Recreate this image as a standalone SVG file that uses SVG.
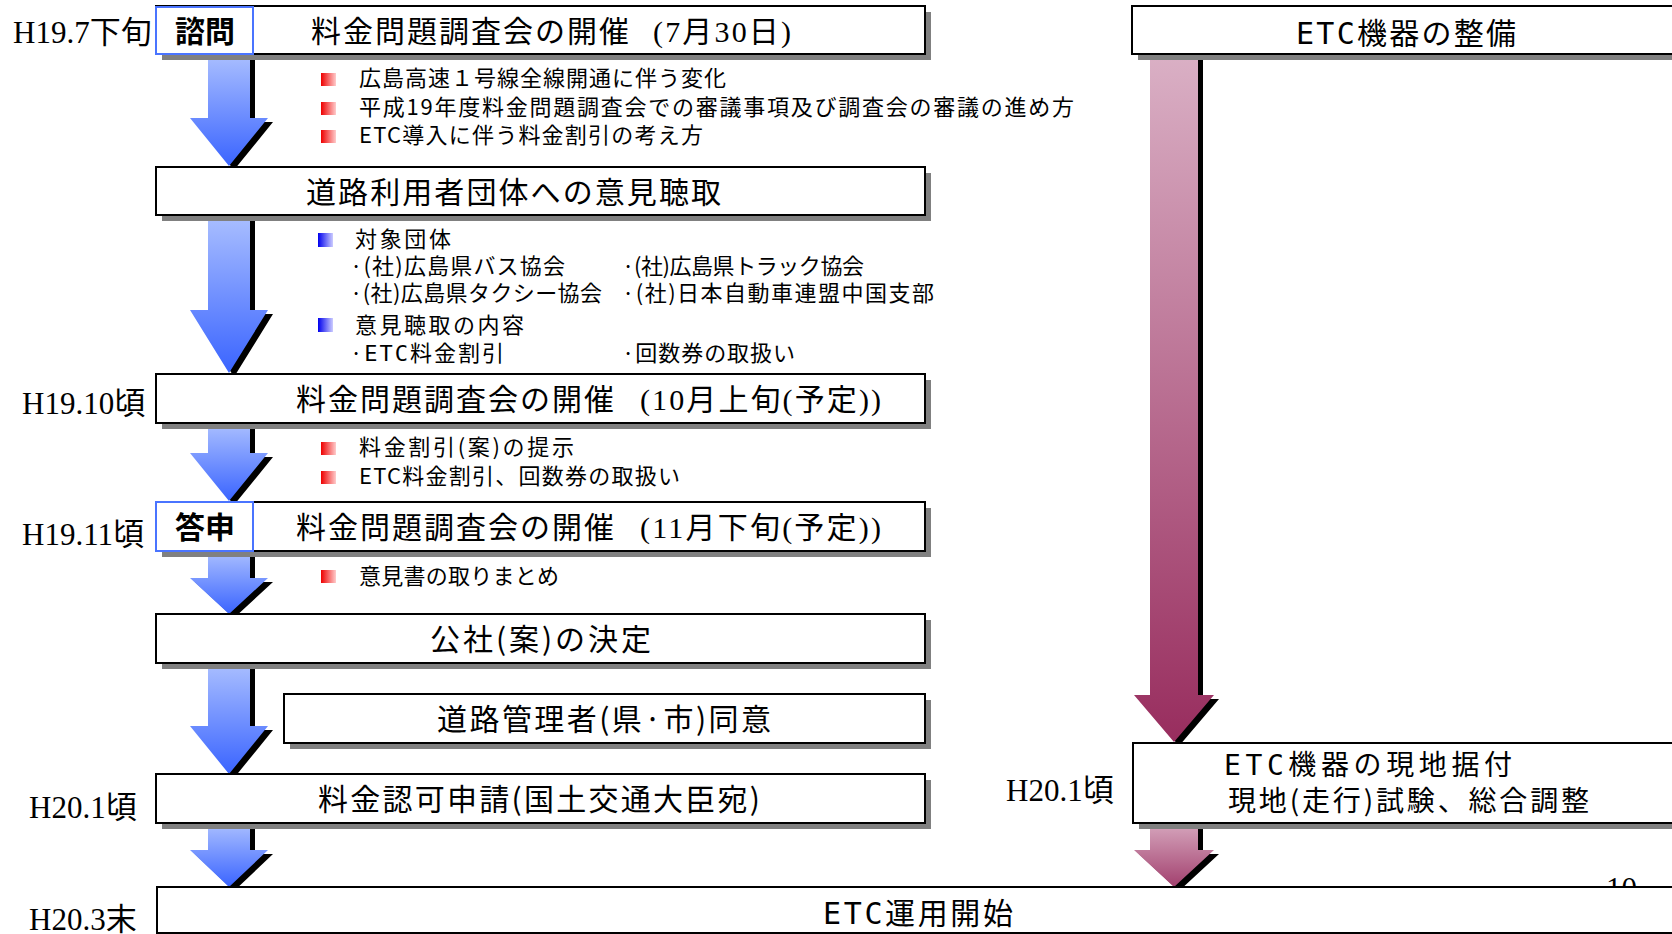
<svg xmlns="http://www.w3.org/2000/svg" width="1672" height="934" viewBox="0 0 1672 934">
<defs>
<linearGradient id="gb" x1="0" y1="0" x2="0" y2="1"><stop offset="0" stop-color="#aabfff"/><stop offset="1" stop-color="#3a64ff"/></linearGradient>
<linearGradient id="gp" x1="0" y1="0" x2="0" y2="1"><stop offset="0" stop-color="#dab0c5"/><stop offset="1" stop-color="#982d5e"/></linearGradient>
<linearGradient id="gp2" x1="0" y1="0" x2="0" y2="1"><stop offset="0" stop-color="#d6a6bd"/><stop offset="1" stop-color="#a2406e"/></linearGradient>
<linearGradient id="gr" x1="0" y1="0" x2="1" y2="0"><stop offset="0" stop-color="#ee0000"/><stop offset="1" stop-color="#ffcccc"/></linearGradient>
<linearGradient id="gbl" x1="0" y1="0" x2="1" y2="0"><stop offset="0" stop-color="#0000ee"/><stop offset="1" stop-color="#ccccff"/></linearGradient>
<style>
.box{fill:#fff;stroke:#000;stroke-width:2}
.sh{fill:#808080}
.tag{fill:#fff;stroke:#4a74ff;stroke-width:2}
.ash{fill:#000}
.jp{font-family:"Noto Sans CJK JP","Noto Sans",sans-serif;fill:#000}
.t30{font-size:30px}
.t28{font-size:28px}
.t23{font-size:22px}
.ser{font-family:"Liberation Serif","Noto Sans CJK JP",serif}
.mono{font-family:"DejaVu Sans Mono",monospace}
.lbl{font-family:"Liberation Serif","Noto Sans CJK JP",serif;font-size:31px;fill:#000}
.bold{font-weight:bold;font-size:30px}
</style>
</defs>
<rect width="1672" height="934" fill="#fff"/>

<text class="lbl" x="1606" y="899" font-size="38">10</text>

<g id="connectors">
<path class="ash" transform="translate(5,4)" d="M208,54 L250,54 L250,118 L268,118 L229,166 L190,118 L208,118 Z"/>
<path fill="url(#gb)" d="M208,54 L250,54 L250,118 L268,118 L229,166 L190,118 L208,118 Z"/>
<path class="ash" transform="translate(5,4)" d="M208,215 L250,215 L250,310 L268,310 L229,373 L190,310 L208,310 Z"/>
<path fill="url(#gb)" d="M208,215 L250,215 L250,310 L268,310 L229,373 L190,310 L208,310 Z"/>
<path class="ash" transform="translate(5,4)" d="M208,423 L250,423 L250,453 L268,453 L229,501 L190,453 L208,453 Z"/>
<path fill="url(#gb)" d="M208,423 L250,423 L250,453 L268,453 L229,501 L190,453 L208,453 Z"/>
<path class="ash" transform="translate(5,4)" d="M208,551 L250,551 L250,578 L268,578 L229,614 L190,578 L208,578 Z"/>
<path fill="url(#gb)" d="M208,551 L250,551 L250,578 L268,578 L229,614 L190,578 L208,578 Z"/>
<path class="ash" transform="translate(5,4)" d="M208,663 L250,663 L250,726 L268,726 L229,774 L190,726 L208,726 Z"/>
<path fill="url(#gb)" d="M208,663 L250,663 L250,726 L268,726 L229,774 L190,726 L208,726 Z"/>
<path class="ash" transform="translate(5,4)" d="M208,823 L250,823 L250,850 L268,850 L229,887 L190,850 L208,850 Z"/>
<path fill="url(#gb)" d="M208,823 L250,823 L250,850 L268,850 L229,887 L190,850 L208,850 Z"/>
<path class="ash" transform="translate(5,4)" d="M1150,54 L1198,54 L1198,695 L1214,695 L1174,742 L1134,695 L1150,695 Z"/>
<path fill="url(#gp)" d="M1150,54 L1198,54 L1198,695 L1214,695 L1174,742 L1134,695 L1150,695 Z"/>
<path class="ash" transform="translate(5,4)" d="M1150,823 L1198,823 L1198,850 L1214,850 L1174,887 L1134,850 L1150,850 Z"/>
<path fill="url(#gp2)" d="M1150,823 L1198,823 L1198,850 L1214,850 L1174,887 L1134,850 L1150,850 Z"/>
</g>

<g id="labels">
<text class="lbl" x="13" y="43">H19.7下旬</text>
<text class="lbl" x="22" y="414">H19.10頃</text>
<text class="lbl" x="22" y="545">H19.11頃</text>
<text class="lbl" x="29" y="818">H20.1頃</text>
<text class="lbl" x="29" y="930">H20.3末</text>
<text class="lbl" x="1006" y="801">H20.1頃</text>
</g>

<g id="n1">
<rect class="sh" x="162" y="12" width="769" height="48"/>
<rect class="box" x="156" y="6" width="769" height="48"/>
<text class="jp t30" x="311" y="42" textLength="318" lengthAdjust="spacing">料金問題調査会の開催</text>
<text class="ser t30" x="653" y="42" textLength="138" lengthAdjust="spacing">(7月30日)</text>
<rect class="tag" x="156" y="7" width="97" height="47"/>
<text class="jp bold" x="205" y="42" text-anchor="middle">諮問</text>
</g>

<g id="b1">
<rect x="321" y="73" width="15" height="13" fill="url(#gr)"/>
<rect x="321" y="102" width="15" height="13" fill="url(#gr)"/>
<rect x="321" y="130" width="15" height="13" fill="url(#gr)"/>
<text class="jp t23" x="359" y="86" textLength="367" lengthAdjust="spacing">広島高速１号線全線開通に伴う変化</text>
<text class="jp t23" x="359" y="115" textLength="715" lengthAdjust="spacing">平成19年度料金問題調査会での審議事項及び調査会の審議の進め方</text>
<text class="jp t23" x="359" y="143" textLength="344" lengthAdjust="spacing">ETC導入に伴う料金割引の考え方</text>
</g>

<g id="n2">
<rect class="sh" x="162" y="173" width="769" height="48"/>
<rect class="box" x="156" y="167" width="769" height="48"/>
<text class="jp t30" x="306" y="203" textLength="415" lengthAdjust="spacing">道路利用者団体への意見聴取</text>
</g>

<g id="b2">
<rect x="318" y="233" width="15" height="14" fill="url(#gbl)"/>
<rect x="318" y="318" width="15" height="14" fill="url(#gbl)"/>
<text class="jp t23" x="355" y="247" textLength="96" lengthAdjust="spacing">対象団体</text>
<text class="jp t23" x="350" y="274" textLength="215" lengthAdjust="spacing">·(社)広島県バス協会</text>
<text class="jp t23" x="622" y="274" textLength="242" lengthAdjust="spacing">·(社)広島県トラック協会</text>
<text class="jp t23" x="350" y="301" textLength="252" lengthAdjust="spacing">·(社)広島県タクシー協会</text>
<text class="jp t23" x="622" y="301" textLength="312" lengthAdjust="spacing">·(社)日本自動車連盟中国支部</text>
<text class="jp t23" x="355" y="333" textLength="169" lengthAdjust="spacing">意見聴取の内容</text>
<text class="jp t23" x="350" y="361" textLength="154" lengthAdjust="spacing">·<tspan class="mono">ETC</tspan>料金割引</text>
<text class="jp t23" x="622" y="361" textLength="173" lengthAdjust="spacing">·回数券の取扱い</text>
</g>

<g id="n3">
<rect class="sh" x="162" y="380" width="769" height="49"/>
<rect class="box" x="156" y="374" width="769" height="49"/>
<text class="jp t30" x="296" y="410" textLength="318" lengthAdjust="spacing">料金問題調査会の開催</text>
<text class="ser t30" x="640" y="410" textLength="241" lengthAdjust="spacing">(10月上旬(予定))</text>
</g>

<g id="b3">
<rect x="321" y="442" width="15" height="13" fill="url(#gr)"/>
<rect x="321" y="471" width="15" height="13" fill="url(#gr)"/>
<text class="jp t23" x="359" y="455" textLength="215" lengthAdjust="spacing">料金割引(案)の提示</text>
<text class="jp t23" x="359" y="484" textLength="321" lengthAdjust="spacing">ETC料金割引、回数券の取扱い</text>
</g>

<g id="n4">
<rect class="sh" x="162" y="508" width="769" height="49"/>
<rect class="box" x="156" y="502" width="769" height="49"/>
<text class="jp t30" x="296" y="538" textLength="318" lengthAdjust="spacing">料金問題調査会の開催</text>
<text class="ser t30" x="640" y="538" textLength="241" lengthAdjust="spacing">(11月下旬(予定))</text>
<rect class="tag" x="156" y="502" width="97" height="49"/>
<text class="jp bold" x="205" y="538" text-anchor="middle">答申</text>
</g>

<g id="b4">
<rect x="321" y="570" width="15" height="13" fill="url(#gr)"/>
<text class="jp t23" x="359" y="584" textLength="200" lengthAdjust="spacing">意見書の取りまとめ</text>
</g>

<g id="n5">
<rect class="sh" x="162" y="620" width="769" height="49"/>
<rect class="box" x="156" y="614" width="769" height="49"/>
<text class="jp t30" x="430" y="650" textLength="221" lengthAdjust="spacing">公社(案)の決定</text>
</g>

<g id="n6">
<rect class="sh" x="290" y="700" width="641" height="49"/>
<rect class="box" x="284" y="694" width="641" height="49"/>
<text class="jp t30" x="437" y="730" textLength="334" lengthAdjust="spacing">道路管理者(県·市)同意</text>
</g>

<g id="n7">
<rect class="sh" x="162" y="780" width="769" height="49"/>
<rect class="box" x="156" y="774" width="769" height="49"/>
<text class="jp t30" x="318" y="810" textLength="442" lengthAdjust="spacing">料金認可申請(国土交通大臣宛)</text>
</g>

<g id="n8">
<rect class="sh" x="163" y="893" width="1560" height="46"/>
<rect class="box" x="157" y="887" width="1560" height="46"/>
<text class="jp t30" x="823" y="924" textLength="190" lengthAdjust="spacing"><tspan class="mono">ETC</tspan>運用開始</text>
</g>

<g id="r1">
<rect class="sh" x="1138" y="12" width="560" height="48"/>
<rect class="box" x="1132" y="6" width="560" height="48"/>
<text class="jp t30" x="1296" y="44" textLength="220" lengthAdjust="spacing"><tspan class="mono">ETC</tspan>機器の整備</text>
</g>

<g id="r2">
<rect class="sh" x="1139" y="749" width="560" height="80"/>
<rect class="box" x="1133" y="743" width="560" height="80"/>
<text class="jp t28" x="1224" y="775" textLength="288" lengthAdjust="spacing"><tspan class="mono">ETC</tspan>機器の現地据付</text>
<text class="jp t28" x="1228" y="811" textLength="361" lengthAdjust="spacing">現地(走行)試験、総合調整</text>
</g>
</svg>
